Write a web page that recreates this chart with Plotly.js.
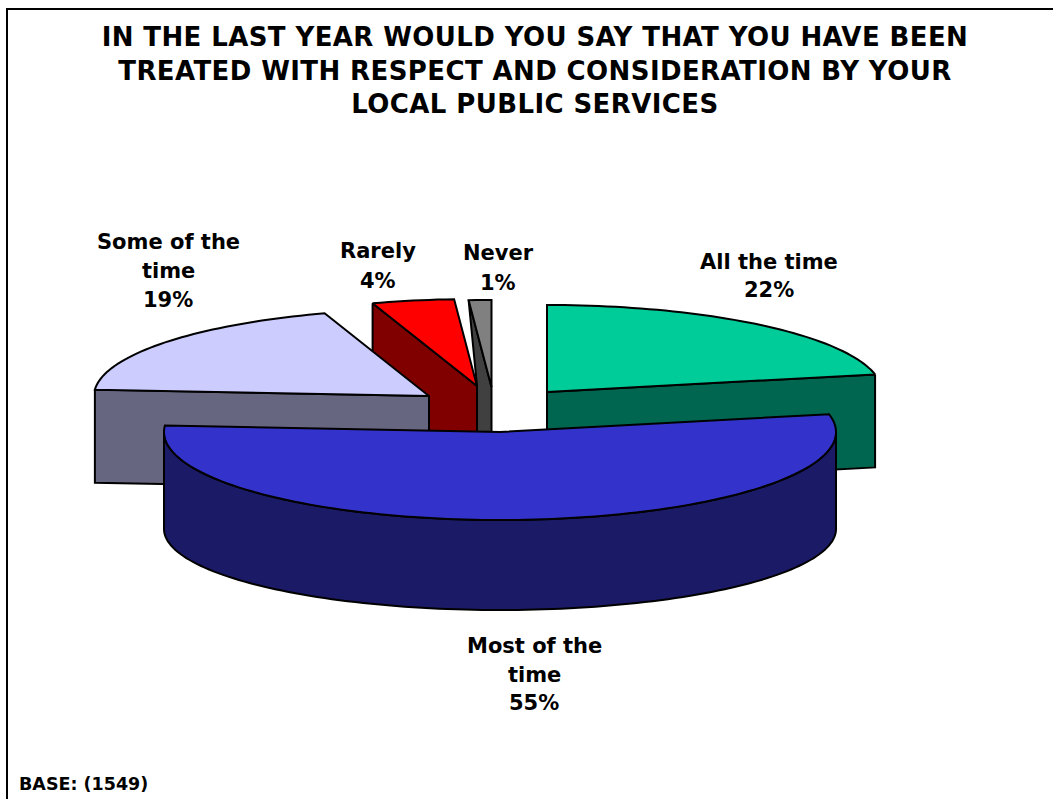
<!DOCTYPE html>
<html>
<head>
<meta charset="utf-8">
<script src="https://cdn.plot.ly/plotly-3.0.1.min.js"></script>
<style>html,body{margin:0;padding:0;background:#fff}#chart{width:1053px;height:799px}
.gtitle{letter-spacing:0.4px}</style>
</head>
<body>
<div id="chart"></div>
<script>
// ---- data ----
var categories = ["All the time", "Most of the time", "Some of the time", "Rarely", "Never"];
var percents = [22, 55, 19, 4, 1.1];
var titleLines = [
  "IN THE LAST YEAR WOULD YOU SAY THAT YOU HAVE BEEN",
  "TREATED WITH RESPECT AND CONSIDERATION BY YOUR",
  "LOCAL PUBLIC SERVICES"
];
var baseNote = "BASE: (1549)";

// ---- styling & projection ----
var topColors  = ["#00CC99", "#3333CC", "#CCCCFF", "#FF0000", "#808080"];
var wallColors = ["#006650", "#1A1A66", "#666680", "#800000", "#404040"];
var centres = [[547, 392], [500, 432], [429, 396], [477, 386], [491.5, 387]];
var RX = 335, RY = 87, DEPTH = 93;
var FONT = "DejaVu Sans, Verdana, sans-serif";

var total = percents.reduce(function (a, b) { return a + b; }, 0);
var spans = [], acc = 0;
percents.forEach(function (p) { spans.push([acc / total * 360, (acc + p) / total * 360]); acc += p; });

function rimPoint(i, deg, dz, ryOverride) {
  var a = deg * Math.PI / 180, rx = i === 1 ? 336 : RX, ry = ryOverride || (i === 1 ? 88 : RY);
  return [centres[i][0] + rx * Math.sin(a), centres[i][1] - ry * Math.cos(a) + (dz || 0)];
}
function arc(i, from, to, dz, ryOverride) {
  var n = Math.max(2, Math.ceil(Math.abs(to - from) / 1.5)), pts = [];
  for (var k = 0; k <= n; k++) pts.push(rimPoint(i, from + (to - from) * k / n, dz, ryOverride));
  return pts;
}
function apex(i, dz) { return [centres[i][0], centres[i][1] + (dz || 0)]; }
function poly(pts, color, name) {
  var xs = pts.map(function (p) { return p[0]; }), ys = pts.map(function (p) { return p[1]; });
  xs.push(xs[0]); ys.push(ys[0]);
  return { type: "scatter", mode: "lines", x: xs, y: ys, fill: "toself", fillcolor: color,
           line: { color: "#000", width: 2, simplify: false }, name: name, hoverinfo: "name", showlegend: false };
}
function topFace(i) { return poly([apex(i)].concat(arc(i, spans[i][0], spans[i][1])), topColors[i], categories[i]); }
function face(i, deg) {
  var r0 = rimPoint(i, deg), r1 = rimPoint(i, deg, DEPTH);
  return poly([r0, apex(i), apex(i, DEPTH), r1], wallColors[i], categories[i]);
}

var traces = [];
// Never (index 4): the face runs from its rim corner to its own apex and back along Rarely's apex
traces.push(poly([rimPoint(4, spans[4][0]), apex(4), apex(4, DEPTH), apex(3, DEPTH), apex(3)], wallColors[4], categories[4]));
traces.push(topFace(4));
// Rarely
traces.push(face(3, spans[3][0]));
traces.push(topFace(3));
// Some of the time
traces.push(face(2, spans[2][0]));
traces.push(topFace(2));
// All the time
traces.push(face(0, spans[0][1]));
traces.push(topFace(0));
// Most of the time: outer wall, then top
traces.push(poly(arc(1, 90, 270).concat(arc(1, 270, 90, 97, 81)), wallColors[1], categories[1]));
traces.push(topFace(1));

// ---- labels ----
var labelAnchors = [[769, [262, 290]], [534, [646, 675, 703]], [168, [242, 271, 300]], [378, [251, 281]], [498, [253, 283]]];
var labelBreaks = [["All the time"], ["Most of the", "time"], ["Some of the", "time"], ["Rarely"], ["Never"]];
var annotations = [];
labelBreaks.forEach(function (lines, i) {
  lines.concat([Math.round(percents[i]) + "%"]).forEach(function (t, j) {
    annotations.push({ x: labelAnchors[i][0], y: labelAnchors[i][1][j], text: t, showarrow: false,
      xanchor: "center", yanchor: "middle", font: { family: FONT, size: 21, color: "#000", weight: 700 } });
  });
});
annotations.push({ x: 17, y: 784, text: baseNote, showarrow: false, xanchor: "left", yanchor: "middle",
  font: { family: FONT, size: 17.5, color: "#000", weight: 700 } });

var layout = {
  width: 1053, height: 799,
  margin: { l: 0, r: 0, t: 0, b: 0 },
  paper_bgcolor: "#fff", plot_bgcolor: "#fff",
  showlegend: false,
  title: { text: titleLines.join("<br>"), x: 0.508, xanchor: "center", xref: "paper",
           y: 0.9428, yanchor: "middle", yref: "container",
           font: { family: FONT, size: 26, color: "#000", weight: 700 } },
  xaxis: { range: [0, 1053], visible: false, fixedrange: true },
  yaxis: { range: [799, 0], visible: false, fixedrange: true },
  shapes: [{ type: "rect", xref: "x", yref: "y", x0: 7, y0: 9, x1: 1070, y1: 820, line: { color: "#000", width: 2 } }],
  annotations: annotations
};
Plotly.newPlot("chart", traces, layout, { staticPlot: true, displayModeBar: false });
</script>
</body>
</html>
